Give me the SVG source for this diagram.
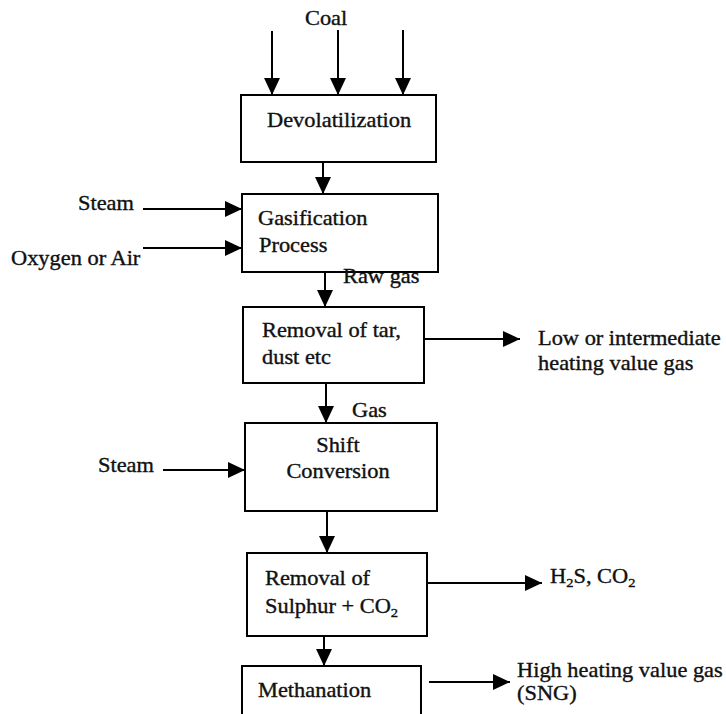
<svg xmlns="http://www.w3.org/2000/svg" width="726" height="714" viewBox="0 0 726 714">
<style>
.box{fill:#fff;stroke:#000;stroke-width:2}
.ln{stroke:#000;stroke-width:2;fill:none;marker-end:url(#ah)}
text{font-family:"Liberation Serif","Times New Roman",serif;font-size:20px;fill:#111;stroke:#111;stroke-width:0.35}
.sub{font-size:13px}
</style>
<defs>
<marker id="ah" markerUnits="userSpaceOnUse" markerWidth="18" markerHeight="16" refX="17" refY="8" orient="auto">
<path d="M0,0 L17,8 L0,16 z" fill="#000" stroke="none"/>
</marker>
</defs>
<rect width="726" height="714" fill="#fff"/>
<g id="connectors">
<line class="ln" x1="272" y1="31" x2="272" y2="95"/>
<line class="ln" x1="338" y1="30" x2="338" y2="95"/>
<line class="ln" x1="403" y1="30" x2="403" y2="95"/>
<line class="ln" x1="323" y1="162" x2="323" y2="194"/>
<line class="ln" x1="143" y1="209" x2="242" y2="209"/>
<line class="ln" x1="143" y1="248" x2="242" y2="248"/>
<line class="ln" x1="325" y1="272" x2="325" y2="307"/>
<line class="ln" x1="424" y1="339" x2="520" y2="339"/>
<line class="ln" x1="326" y1="383" x2="326" y2="423"/>
<line class="ln" x1="163" y1="470" x2="245" y2="470"/>
<line class="ln" x1="327" y1="511" x2="327" y2="553"/>
<line class="ln" x1="427" y1="583" x2="542" y2="583"/>
<line class="ln" x1="324" y1="636" x2="324" y2="666"/>
<line class="ln" x1="429" y1="682" x2="510" y2="682"/>
</g>
<g id="coal"><text transform="translate(305,25) scale(1.12,1)">Coal</text></g>
<g id="devolatilization">
<rect class="box" x="241" y="95" width="195" height="67"/>
<text transform="translate(267,127) scale(1.12,1)">Devolatilization</text>
</g>
<g id="steam1"><text transform="translate(78,210) scale(1.12,1)">Steam</text></g>
<g id="oxygen"><text transform="translate(11,265) scale(1.12,1)">Oxygen or Air</text></g>
<g id="gasification">
<rect class="box" x="242" y="194" width="196" height="78"/>
<text transform="translate(258,225) scale(1.12,1)">Gasification</text>
<text transform="translate(259,252) scale(1.12,1)">Process</text>
</g>
<g id="rawgas"><text transform="translate(343,283) scale(1.12,1)">Raw gas</text></g>
<g id="removal-tar">
<rect class="box" x="243" y="307" width="181" height="76"/>
<text transform="translate(262,337) scale(1.12,1)">Removal of tar,</text>
<text transform="translate(262,364) scale(1.12,1)">dust etc</text>
</g>
<g id="low-gas">
<text transform="translate(538,345) scale(1.12,1)">Low or intermediate</text>
<text transform="translate(538,370) scale(1.12,1)">heating value gas</text>
</g>
<g id="gas"><text transform="translate(352,417) scale(1.12,1)">Gas</text></g>
<g id="steam2"><text transform="translate(98,472) scale(1.12,1)">Steam</text></g>
<g id="shift">
<rect class="box" x="245" y="423" width="192" height="88"/>
<text transform="translate(338,452) scale(1.12,1)" text-anchor="middle">Shift</text>
<text transform="translate(338,478) scale(1.12,1)" text-anchor="middle">Conversion</text>
</g>
<g id="removal-sulphur">
<rect class="box" x="247" y="553" width="180" height="83"/>
<text transform="translate(265,585) scale(1.12,1)">Removal of</text>
<text transform="translate(265,613) scale(1.12,1)">Sulphur + CO<tspan class="sub" dy="4">2</tspan></text>
</g>
<g id="h2s"><text transform="translate(550,583) scale(1.12,1)">H<tspan class="sub" dy="4">2</tspan><tspan dy="-4">S, CO</tspan><tspan class="sub" dy="4">2</tspan></text></g>
<g id="methanation">
<rect class="box" x="242" y="666" width="179" height="60"/>
<text transform="translate(258,697) scale(1.12,1)">Methanation</text>
</g>
<g id="sng">
<text transform="translate(517,677) scale(1.12,1)">High heating value gas</text>
<text transform="translate(517,700) scale(1.12,1)">(SNG)</text>
</g>
</svg>
